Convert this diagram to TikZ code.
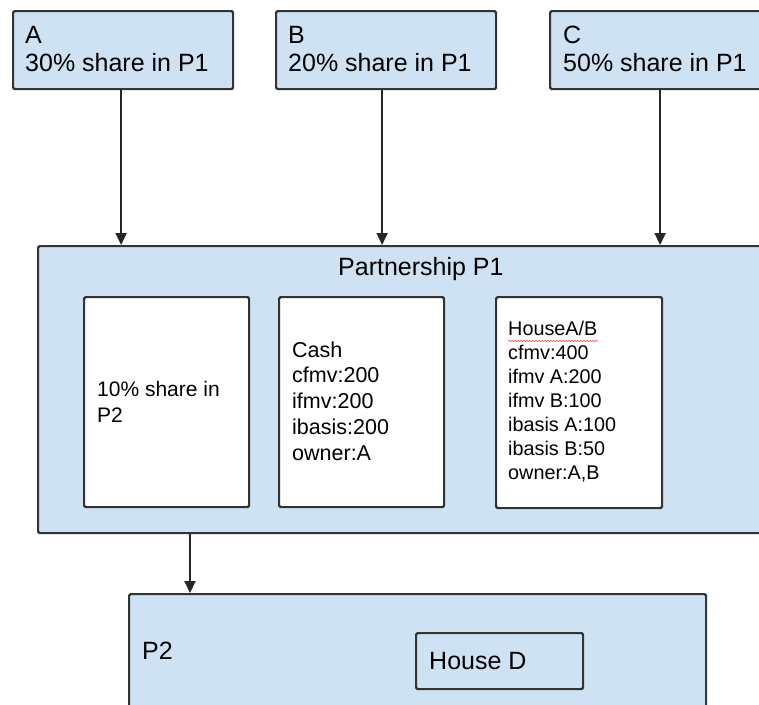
\documentclass[tikz,border=0pt]{standalone}
\usepackage{fontspec}
\setmainfont{Liberation Sans}
\usetikzlibrary{arrows.meta,decorations.pathmorphing}
\definecolor{boxblue}{HTML}{CFE2F3}
\definecolor{edgegray}{HTML}{333333}

\begin{document}
\begin{tikzpicture}[x=1pt,y=-1pt,
  box/.style={draw=edgegray, line width=2.2pt, rounded corners=1.5pt,
              anchor=north west, inner sep=0pt},
  bluebox/.style={box, fill=boxblue},
  whitebox/.style={box, fill=white},
  % multi-line texts are placed by the baseline of their last line
  txt/.style={anchor=base west, inner sep=0pt, align=left, text=black},
  big/.style={txt, font=\fontsize{25}{28}\selectfont},
  arr/.style={draw=black!85, line width=2pt,
              -{Triangle[length=12pt,width=11pt]}}
]
\clip (0,0) rectangle (759,704);
\fill[white] (0,0) rectangle (759,704);

% owners
\node[bluebox, minimum width=220pt, minimum height=78pt] (A) at (12,10) {};
\node[bluebox, minimum width=220pt, minimum height=78pt] (B) at (275,10) {};
\node[bluebox, minimum width=220pt, minimum height=78pt] (C) at (549,10) {};
\node[big] (Atxt) at (25,71) {A\\30\% share in P1};
\node[big] (Btxt) at (288,71) {B\\20\% share in P1};
\node[big] (Ctxt) at (563,71) {C\\50\% share in P1};

% partnership P1 and its assets
\node[bluebox, minimum width=780pt, minimum height=287pt] (P1) at (37,245) {};
\node[big] (P1txt) at (338,275) {Partnership P1};

\node[whitebox, minimum width=165pt, minimum height=210pt] (S1) at (83,296) {};
\node[whitebox, minimum width=165pt, minimum height=210pt] (S2) at (278,296) {};
\node[whitebox, minimum width=166pt, minimum height=211pt] (S3) at (495,296) {};

\node[txt, font=\fontsize{21}{26}\selectfont] (S1txt) at (97,422)
  {10\% share in\\P2};
\node[txt, font=\fontsize{21.5}{25.75}\selectfont] (S2txt) at (292,460)
  {Cash\\cfmv:200\\ifmv:200\\ibasis:200\\owner:A};
\node[txt, font=\fontsize{19.8}{24}\selectfont] (S3txt) at (508,479)
  {HouseA/B\\cfmv:400\\ifmv A:200\\ifmv B:100\\ibasis A:100\\ibasis B:50\\owner:A,B};
% spell-check squiggle under the first word
\draw[red!75, line width=0.6pt, decorate,
      decoration={snake, amplitude=0.7pt, segment length=3pt}]
  (508,341) -- (598,341);

% partnership P2
\node[bluebox, minimum width=577pt, minimum height=150pt] (P2) at (128,593) {};
\node[big] (P2txt) at (142,659) {P2};
\node[box, fill=boxblue, minimum width=167pt, minimum height=56pt] (HD) at (415,632) {};
\node[big] (HDtxt) at (429,669) {House D};

% ownership arrows
\draw[arr] ([xshift=-2pt]A.south) -- ([xshift=-2pt]A.south |- P1.north);
\draw[arr] ([xshift=-4pt]B.south) -- ([xshift=-4pt]B.south |- P1.north);
\draw[arr] (C.south) -- (C.south |- P1.north);
\draw[arr] ([xshift=153pt]P1.south west) -- ([xshift=153pt]P1.south west |- P2.north);
\end{tikzpicture}
\end{document}
